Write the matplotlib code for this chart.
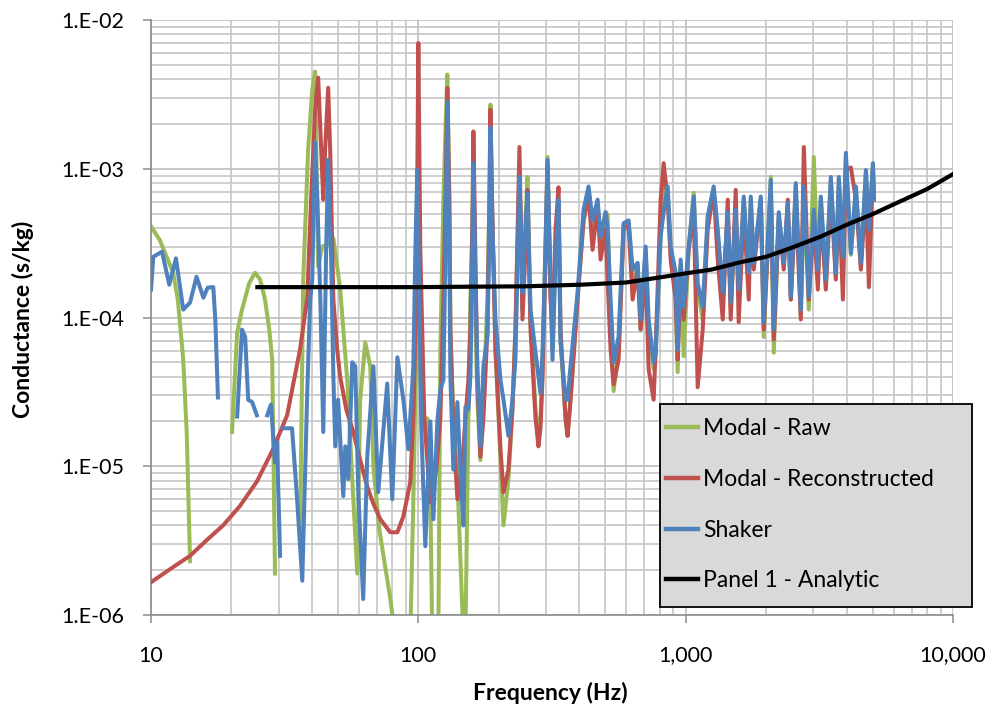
import numpy as np
import matplotlib
matplotlib.use("Agg")
import matplotlib.pyplot as plt
from matplotlib.ticker import FuncFormatter, NullFormatter, LogLocator
from matplotlib.lines import Line2D
from matplotlib.patches import Rectangle

plt.rcParams['font.family'] = ['Lato', 'DejaVu Sans']

# ---------------- data ----------------
series_names = ["Modal - Raw", "Modal - Reconstructed", "Shaker", "Panel 1 - Analytic"]
colors = ["#9BBB59", "#C0504D", "#4F81BD", "#000000"]

# low-frequency parts (None = gap in the record)
green_low_freq = [10, 10.8, 11.5, 12.1, 12.6, 13.2, 13.6, 14.0, None,
                  20.1, 21.0, 21.9, 23.3, 24.5, 25.6, 26.7, 27.7, 28.4, 29.1, None,
                  36.1, 37.1, 38.7, 40.1, 41.1, 42.2, 43.7, 46.0, 48.1, 51.0,
                  54.2, 56.6, 59.1, 60.6, 63.3, 66.1, 67.9, 71.4, 75.2, 78.5,
                  82.0, 93.3, 95.8, 99.1, 101.7, 105.3, 108.1, 110.9, 112.8, 118.8]
green_low_val = [4.1e-4, 3.3e-4, 2.5e-4, 2.0e-4, 1.32e-4, 5.2e-5, 1.7e-5, 2.3e-6, None,
                 1.7e-5, 7.9e-5, 1.13e-4, 1.7e-4, 2.0e-4, 1.8e-4, 1.32e-4, 8.3e-5, 5.2e-5, 1.9e-6, None,
                 3.2e-6, 1.8e-4, 1.34e-3, 3.4e-3, 4.5e-3, 2.2e-4, 3.0e-4, 3.1e-4, 3.4e-4, 1.56e-4,
                 3.8e-5, 8.2e-6, 1.9e-6, 2.8e-5, 6.8e-5, 4.7e-5, 1.0e-5, 3.8e-6, 2.1e-6, 1.3e-6,
                 7e-7, 7e-7, 6.0e-6, 1.32e-4, 3.8e-5, 1.8e-5, 2.1e-5, 6.0e-6, 7e-7, 7e-7]

red_low_freq = [10, 12.1, 14.0, 16.2, 18.6, 21.5, 24.9, 28.6, 32.3, 36.1,
                38.4, 39.7, 41.1, 42.2, 43.0, 44.1, 44.8, 46.0, 46.8, 48.1,
                49.7, 51.0, 53.8, 57.1, 60.6, 64.4, 67.9, 72.1, 78.5, 83.5,
                87.9, 93.3, 95.8, 98.3, 100.0, 101.7, 105.3, 110.9, 116.8]
red_low_val = [1.66e-6, 2.1e-6, 2.5e-6, 3.2e-6, 4.0e-6, 5.4e-6, 7.9e-6, 1.3e-5, 2.2e-5, 6.1e-5,
               1.34e-4, 6.2e-4, 2.5e-3, 4.1e-3, 1.8e-3, 6.2e-4, 1.34e-3, 3.5e-3, 1.34e-3, 1.32e-4,
               6.1e-5, 4.0e-5, 2.4e-5, 1.7e-5, 1.1e-5, 7.3e-6, 5.6e-6, 4.4e-6, 3.6e-6, 3.6e-6,
               4.6e-6, 7.8e-6, 2.2e-5, 1.32e-4, 7.0e-3, 2.85e-4, 2.1e-5, 5.7e-6, 9.5e-6]

blue_low_freq = [10, 10.2, 11.0, 11.7, 12.4, 13.2, 14.0, 14.8, 15.7, 16.3, 17.1, 17.4, 17.8, None,
                 21.0, 21.9, 22.5, 23.1, 23.9, 24.9, None,
                 27.2, 28.1, 29.1, 29.6, 30.4, None,
                 31.2, 32.3, 33.7, 35.2, 36.8, 38.4, 39.4, 40.1, 41.1, 41.9,
                 43.0, 44.1, 45.2, 46.0, 47.2, 48.1, 48.9, 50.1, 52.4, 53.3,
                 54.7, 56.6, 58.1, 59.6, 62.2, 64.4, 67.9, 70.8, 76.5, 79.9,
                 83.5, 87.9, 91.8, 95.8, 97.5, 99.1, 100.9, 102.6, 106.2, 110.9,
                 113.8, 117.8]
blue_low_val = [1.54e-4, 2.56e-4, 2.77e-4, 1.66e-4, 2.5e-4, 1.13e-4, 1.26e-4, 1.88e-4, 1.36e-4, 1.59e-4, 1.6e-4, 0.97e-4, 2.9e-5, None,
                2.16e-5, 8.3e-5, 7.4e-5, 2.8e-5, 2.7e-5, 2.2e-5, None,
                2.2e-5, 2.6e-5, 1.06e-5, 1.45e-5, 2.5e-6, None,
                1.8e-5, 1.8e-5, 1.8e-5, 6.0e-6, 1.7e-6, 3.1e-5, 1.32e-4, 1.8e-4, 1.5e-3, 6.2e-4,
                1.32e-4, 1.7e-5, 2.85e-4, 1.15e-3, 2.45e-4, 4.0e-5, 1.36e-5, 2.8e-5, 6.3e-6, 1.36e-5,
                8.2e-6, 5.0e-5, 4.7e-5, 6.7e-6, 1.28e-6, 1.16e-5, 4.7e-5, 6.7e-6, 3.6e-5, 6.0e-6,
                5.4e-5, 2.8e-5, 1.3e-5, 4.7e-5, 2.85e-4, 9.8e-4, 1.32e-4, 1.8e-5, 2.9e-6, 2.0e-5,
                4.4e-6, 2.0e-5]

# high-frequency part, common frequency samples (Hz)
freq_hi = [120.9, 124.1, 126.3, 128.4, 130.6, 131.8, 135.2, 140.0, 143.6, 147.4,
           150.0, 153.9, 156.6, 159.3, 160.7, 163.5, 166.3, 170.7, 175.2, 181.3,
           184.5, 186.1, 189.3, 194.3, 202.9, 208.2, 217.3, 224.9, 230.8, 238.9,
           243.1, 245.2, 251.6, 256.0, 262.8, 274.4, 281.4, 286.3, 291.3, 299.0,
           304.2, 312.2, 317.6, 326.0, 334.5, 340.3, 355.3, 361.5, 371.0, 394.0,
           415.0, 433.3, 448.5, 468.3, 480.5, 501.8, 510.5, 523.8, 537.6, 561.0,
           586.0, 611.7, 633.2, 661.1, 678.5, 708.4, 726.9, 758.8, 772.0, 806.1,
           827.2, 856.3, 878.7, 917.4, 933.3, 957.8, 982.9, 1026, 1072, 1109,
           1158, 1209, 1273, 1318, 1376, 1437, 1474, 1539, 1579, 1649,
           1722, 1752, 1798, 1910, 1959, 2082, 2136, 2230, 2328, 2410,
           2474, 2582, 2696, 2767, 2888, 3015, 3122, 3203, 3344, 3492,
           3645, 3741, 3873, 3975, 4150, 4333, 4523, 4723, 4846, 5018,
           5061]

green_hi = [6.1e-5, 6.2e-4, 1.8e-3, 4.3e-3, 6.2e-4, 8.3e-5, 2.1e-5, 8.2e-6, 2.4e-6, 7e-7,
            7e-7, 2.1e-5, 1.32e-4, 3.9e-4, 8.4e-4, 9.7e-5, 2.8e-5, 1.1e-5, 2.8e-5, 1.32e-4,
            6.2e-4, 2.7e-3, 4.5e-4, 6.1e-5, 1.1e-5, 4.0e-6, 8.2e-6, 2.4e-5, 8.3e-5, 9.8e-4,
            2.45e-4, 1.13e-4, 4.5e-4, 8.8e-4, 9.7e-5, 2.4e-5, 1.5e-5, 2.1e-5, 4.5e-5, 3.3e-4,
            1.2e-3, 1.54e-4, 6.1e-5, 2.85e-4, 5.3e-4, 7.1e-5, 2.1e-5, 1.6e-5, 2.8e-5, 1.32e-4,
            4.5e-4, 6.7e-4, 4.2e-4, 5.7e-4, 3.3e-4, 5.1e-4, 4.9e-4, 9.7e-5, 3.2e-5, 6.1e-5,
            4.2e-4, 4.4e-4, 1.8e-4, 2.26e-4, 8.3e-5, 2.85e-4, 8.3e-5, 4.5e-5, 5.6e-5, 3.5e-4,
            7.8e-4, 7.2e-4, 2.85e-4, 1.32e-4, 4.3e-5, 2.26e-4, 5.5e-5, 2.85e-4, 6.9e-4, 1.54e-4,
            9.7e-5, 4.5e-4, 7.2e-4, 3.6e-4, 1.32e-4, 4.9e-4, 1.13e-4, 5.1e-4, 1.42e-4, 6.2e-4,
            1.8e-4, 6.2e-4, 2.26e-4, 6.2e-4, 7.4e-5, 8.8e-4, 5.8e-5, 4.9e-4, 2.26e-4, 5.7e-4,
            1.32e-4, 7.8e-4, 1.0e-4, 7.2e-4, 1.13e-4, 1.2e-3, 1.94e-4, 6.2e-4, 1.66e-4, 8.4e-4,
            1.94e-4, 8.4e-4, 2.45e-4, 1.15e-3, 2.64e-4, 7.2e-4, 2.26e-4, 9.5e-4, 3.8e-4, 1.06e-3,
            6.2e-4]

red_hi = [2.1e-5, 1.32e-4, 6.2e-4, 3.5e-3, 6.2e-4, 8.3e-5, 1.8e-5, 6.0e-6, 8.2e-6, 1.3e-5,
          2.1e-5, 3.8e-5, 8.3e-5, 4.5e-4, 1.78e-3, 2.45e-4, 3.8e-5, 1.16e-5, 2.1e-5, 8.3e-5,
          6.2e-4, 2.5e-3, 4.5e-4, 6.1e-5, 1.3e-5, 6.7e-6, 9.5e-6, 2.4e-5, 8.3e-5, 1.4e-3,
          2.45e-4, 9.7e-5, 2.85e-4, 7.2e-4, 8.3e-5, 2.1e-5, 1.36e-5, 1.8e-5, 3.8e-5, 2.45e-4,
          1.06e-3, 1.32e-4, 8.3e-5, 3.9e-4, 7.5e-4, 8.3e-5, 2.1e-5, 1.6e-5, 2.8e-5, 1.32e-4,
          4.5e-4, 6.7e-4, 2.85e-4, 5.7e-4, 2.45e-4, 3.9e-4, 1.8e-4, 6.1e-5, 3.55e-5, 5.2e-5,
          3.9e-4, 4.2e-4, 1.32e-4, 2.1e-4, 8.3e-5, 2.1e-4, 4.5e-5, 2.8e-5, 6.1e-5, 6.2e-4,
          1.09e-3, 6.2e-4, 2.45e-4, 1.32e-4, 5.2e-5, 2.1e-4, 9.7e-5, 2.85e-4, 5.3e-4, 3.4e-5,
          8.3e-5, 3.9e-4, 7.2e-4, 2.45e-4, 9.7e-5, 6.2e-4, 9.7e-5, 7.2e-4, 9.3e-5, 5.3e-4,
          1.32e-4, 5.3e-4, 2.1e-4, 6.2e-4, 8.3e-5, 7.2e-4, 7.1e-5, 4.5e-4, 2.1e-4, 6.2e-4,
          1.32e-4, 6.2e-4, 9.7e-5, 1.4e-3, 1.32e-4, 4.5e-4, 1.54e-4, 5.3e-4, 1.54e-4, 7.2e-4,
          1.8e-4, 7.2e-4, 1.32e-4, 9.8e-4, 1.02e-3, 6.2e-4, 2.1e-4, 7.2e-4, 1.6e-4, 9.8e-4,
          6.2e-4]

blue_hi = [3.3e-5, 3.8e-5, 2.85e-4, 2.8e-3, 2.85e-4, 4.0e-5, 9.5e-6, 2.7e-5, 9.5e-6, 4.0e-6,
           2.5e-5, 2.4e-5, 4.0e-5, 2.85e-4, 1.09e-3, 1.8e-4, 4.5e-5, 1.36e-5, 4.7e-5, 7.4e-5,
           3.9e-4, 1.9e-3, 3.9e-4, 9.7e-5, 3.8e-5, 2.8e-5, 1.6e-5, 2.8e-5, 5.2e-5, 8.8e-4,
           2.85e-4, 1.47e-4, 3.9e-4, 6.9e-4, 1.13e-4, 5.8e-5, 4.0e-5, 3.1e-5, 5.8e-5, 2.85e-4,
           1.15e-3, 1.8e-4, 5.2e-5, 2.45e-4, 6.2e-4, 6.8e-5, 2.8e-5, 2.8e-5, 4.7e-5, 1.47e-4,
           5.3e-4, 7.6e-4, 4.5e-4, 6.2e-4, 3.5e-4, 5.1e-4, 3.9e-4, 1.32e-4, 5.0e-5, 7.4e-5,
           4.3e-4, 4.5e-4, 2.1e-4, 2.33e-4, 9.7e-5, 3.0e-4, 9.7e-5, 5.0e-5, 5.8e-5, 3.5e-4,
           5.1e-4, 7.6e-4, 3.0e-4, 2.0e-4, 6.1e-5, 2.45e-4, 1.18e-4, 3.0e-4, 6.5e-4, 1.7e-4,
           1.18e-4, 4.8e-4, 7.6e-4, 3.9e-4, 1.47e-4, 5.1e-4, 1.26e-4, 5.3e-4, 1.54e-4, 6.5e-4,
           2.0e-4, 6.5e-4, 2.33e-4, 6.5e-4, 9.3e-5, 8.4e-4, 8.3e-5, 5.1e-4, 2.33e-4, 5.9e-4,
           1.38e-4, 8.0e-4, 1.13e-4, 7.6e-4, 1.38e-4, 5.3e-4, 2.1e-4, 6.5e-4, 1.8e-4, 8.8e-4,
           2.0e-4, 8.8e-4, 2.56e-4, 1.28e-3, 2.7e-4, 7.6e-4, 2.33e-4, 9.8e-4, 3.9e-4, 1.09e-3,
           6.2e-4]

analytic_freq = [25, 50, 100, 150, 250, 400, 600, 800, 1000, 1250, 1600,
                 2000, 2500, 3200, 4000, 5000, 6300, 8000, 10000]
analytic_val = [1.6e-4, 1.6e-4, 1.6e-4, 1.61e-4, 1.62e-4, 1.66e-4, 1.72e-4, 1.86e-4, 1.98e-4,
                2.1e-4, 2.35e-4, 2.56e-4, 2.95e-4, 3.5e-4, 4.2e-4, 4.95e-4, 6.0e-4, 7.3e-4, 9.2e-4]

y_ticks = [1e-6, 1e-5, 1e-4, 1e-3, 1e-2]
x_ticks = [10, 100, 1000, 10000]


def arr(values):
    return np.array([np.nan if v is None else v for v in values], dtype=float)


green_f = np.concatenate([arr(green_low_freq), arr(freq_hi)])
green_v = np.concatenate([arr(green_low_val), arr(green_hi)])
red_f = np.concatenate([arr(red_low_freq), arr(freq_hi)])
red_v = np.concatenate([arr(red_low_val), arr(red_hi)])
blue_f = np.concatenate([arr(blue_low_freq), arr(freq_hi)])
blue_v = np.concatenate([arr(blue_low_val), arr(blue_hi)])

# ---------------- figure ----------------
W, H = 994, 713
fig = plt.figure(figsize=(W / 100, H / 100), dpi=100)
ax = fig.add_axes([151 / W, 1 - 615 / H, 802 / W, 595 / H])
ax.set_xscale('log')
ax.set_yscale('log')
ax.set_xlim(10, 10000)
ax.set_ylim(1e-6, 1e-2)

ax.grid(which='major', color='#bebebe', lw=1.2, zorder=0)
ax.grid(which='minor', color='#c6c6c6', lw=1.2, zorder=0)
ax.set_axisbelow(True)

lw = 2.9
ax.plot(green_f, green_v, color=colors[0], lw=lw, solid_joinstyle='round', zorder=2)
ax.plot(red_f, red_v, color=colors[1], lw=lw, solid_joinstyle='round', zorder=3)
ax.plot(blue_f, blue_v, color=colors[2], lw=lw, solid_joinstyle='round', zorder=4)
ax.plot(analytic_freq, analytic_val, color=colors[3], lw=3.0, zorder=5)

ax.set_xticks(x_ticks)
ax.set_yticks(y_ticks)
ax.xaxis.set_minor_locator(LogLocator(base=10, subs=np.arange(2, 10)))
ax.yaxis.set_minor_locator(LogLocator(base=10, subs=np.arange(2, 10)))
ax.xaxis.set_minor_formatter(NullFormatter())
ax.yaxis.set_minor_formatter(NullFormatter())
ax.xaxis.set_major_formatter(FuncFormatter(lambda v, p: f"{int(round(v)):,}"))
ax.yaxis.set_major_formatter(FuncFormatter(lambda v, p: f"1.E-{int(round(-np.log10(v))):02d}"))
ax.tick_params(which='major', direction='out', length=6, width=1.1, color='#8c8c8c',
               labelsize=15.5)
ax.tick_params(axis='y', which='major', pad=13)
ax.tick_params(axis='x', which='major', pad=16)
ax.tick_params(which='minor', length=0)
for s in ['top', 'right']:
    ax.spines[s].set_visible(False)
for s in ['left', 'bottom']:
    ax.spines[s].set_color('#8c8c8c')
    ax.spines[s].set_linewidth(1.2)

fig.text(23 / W, 1 - 319 / H, 'Conductance (s/kg)', rotation=90, ha='center', va='center',
         fontsize=16.5, fontweight='bold')
fig.text(550 / W, 1 - 693 / H, 'Frequency (Hz)', ha='center', va='center',
         fontsize=16.5, fontweight='bold')

# legend box (grey panel with black border)
box = Rectangle(((660 - 151) / 802, (615 - 607) / 595), 312 / 802, 203 / 595,
                transform=ax.transAxes, facecolor='#d9d9d9', edgecolor='black',
                lw=1.3, clip_on=False, zorder=9)
ax.add_patch(box)
handles = [Line2D([], [], color=c, lw=3.2) for c in colors]
leg = ax.legend(handles, series_names, loc='upper left',
                bbox_to_anchor=((666 - 151) / 802, (615 - 418) / 595),
                fontsize=16.5, handlelength=1.4, handletextpad=0.22,
                labelspacing=1.3, borderpad=0.0, borderaxespad=0.0,
                frameon=False)
leg.set_zorder(10)

fig.savefig('out.png', dpi=100)
